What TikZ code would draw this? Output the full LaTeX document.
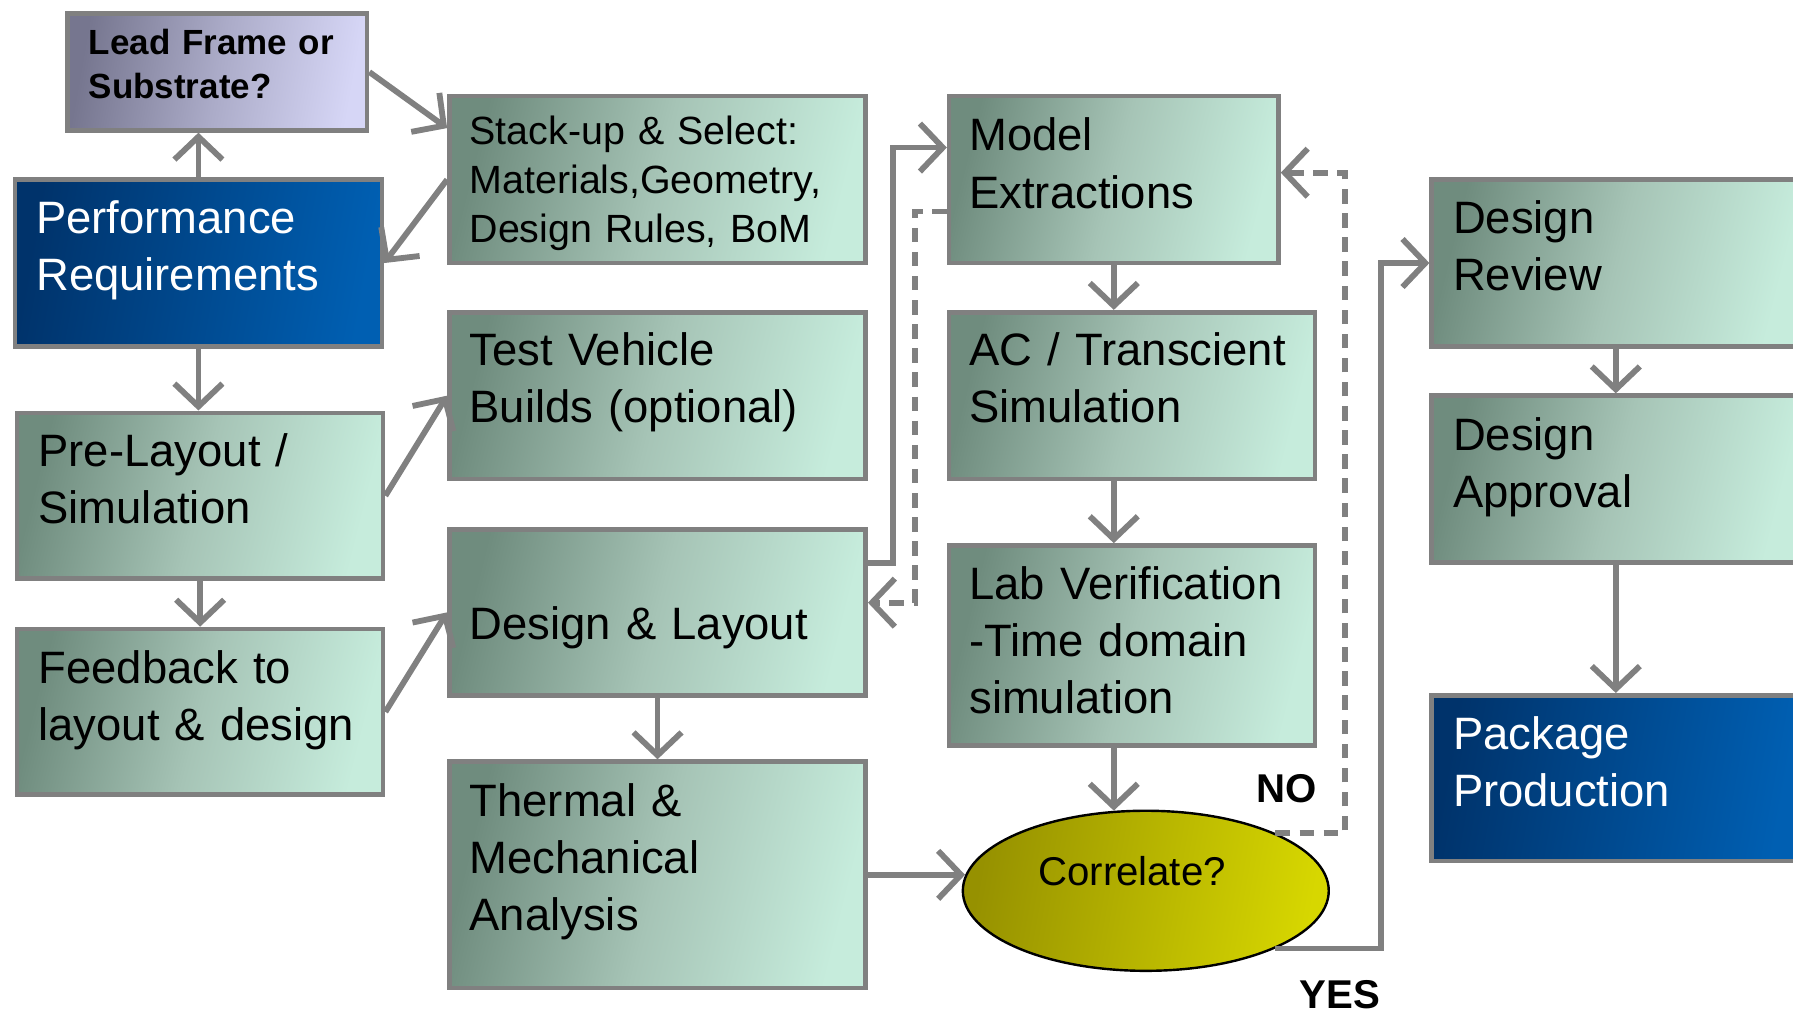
\documentclass[tikz,border=0pt]{standalone}
\usepackage{fontspec}
\setmainfont{Liberation Sans}
\usetikzlibrary{arrows.meta,shapes.geometric}
\definecolor{boxdark}{HTML}{6F8C7E}
\definecolor{boxmid}{HTML}{A6C4B6}
\definecolor{boxlight}{HTML}{C6ECDC}
\definecolor{bluedark}{HTML}{00336B}
\definecolor{bluelight}{HTML}{005FB2}
\definecolor{lavdark}{HTML}{76768F}
\definecolor{lavlight}{HTML}{D6D6F6}
\definecolor{olivedark}{HTML}{969100}
\definecolor{olivelight}{HTML}{D7D700}
\definecolor{linegray}{HTML}{808080}
\newcommand{\flowbig}{\fontsize{11.3}{14.2}\selectfont}
\newcommand{\flowsmall}{\fontsize{9.8}{12.2}\selectfont}
\newcommand{\flowlead}{\fontsize{8.7}{10.8}\selectfont\bfseries}

\begin{document}
\begin{tikzpicture}[
  font=\flowbig,
  stepbox/.style={draw=linegray, line width=1.15pt, anchor=north west, inner sep=0pt,
    left color=boxdark, right color=boxlight, middle color=boxmid, shading angle=76},
  bluebox/.style={stepbox, left color=bluedark, right color=bluelight, middle color=bluedark!50!bluelight, shading angle=80},
  leadbox/.style={stepbox, left color=lavdark, right color=lavlight, middle color=lavdark!45!lavlight, shading angle=80},
  decide/.style={ellipse, draw=black, line width=0.6pt, inner sep=0pt,
    left color=olivedark, right color=olivelight, shading angle=80},
  txt/.style={anchor=base west, inner sep=0pt, align=left, text width=3.5cm},
  flow/.style={-{Straight Barb[length=2mm, width=4.2mm]}, draw=linegray, line width=1.45pt},
  back/.style={flow, dash pattern=on 3.6pt off 2.4pt},
  yesno/.style={font=\fontsize{10}{12}\selectfont\bfseries, inner sep=0pt, anchor=west}
]
\clip (0,0) rectangle (15.68,-8.86);

% left column
\node[leadbox, minimum width=2.62cm, minimum height=1.02cm] (lead) at (0.57,-0.10) {};
\node[txt, font=\flowlead] (lead-t) at ([shift={(0.20,-0.38)}]lead.north west) {Lead Frame or\\Substrate?};
\node[bluebox, minimum width=3.21cm, minimum height=1.46cm] (perf) at (0.11,-1.55) {};
\node[txt, text=white] (perf-t) at ([shift={(0.20,-0.49)}]perf.north west) {Performance\\Requirements};
\node[stepbox, minimum width=3.20cm, minimum height=1.45cm] (pre) at (0.13,-3.59) {};
\node[txt] (pre-t) at ([shift={(0.20,-0.49)}]pre.north west) {Pre-Layout /\\Simulation};
\node[stepbox, minimum width=3.20cm, minimum height=1.45cm] (feed) at (0.13,-5.48) {};
\node[txt] (feed-t) at ([shift={(0.20,-0.50)}]feed.north west) {Feedback to\\layout \& design};

% second column
\node[stepbox, minimum width=3.64cm, minimum height=1.46cm] (stack) at (3.91,-0.82) {};
\node[txt, font=\flowsmall] (stack-t) at ([shift={(0.19,-0.44)}]stack.north west) {Stack-up \& Select:\\Materials,Geometry,\\Design Rules, BoM};
\node[stepbox, minimum width=3.64cm, minimum height=1.46cm] (test) at (3.91,-2.71) {};
\node[txt] (test-t) at ([shift={(0.19,-0.49)}]test.north west) {Test Vehicle\\Builds (optional)};
\node[stepbox, minimum width=3.64cm, minimum height=1.45cm] (layout) at (3.91,-4.61) {};
\node[txt] (layout-t) at ([shift={(0.19,-0.98)}]layout.north west) {Design \& Layout};
\node[stepbox, minimum width=3.64cm, minimum height=1.98cm] (thermal) at (3.91,-6.64) {};
\node[txt] (thermal-t) at ([shift={(0.19,-0.50)}]thermal.north west) {Thermal \&\\Mechanical\\Analysis};

% third column
\node[stepbox, minimum width=2.88cm, minimum height=1.46cm] (model) at (8.28,-0.82) {};
\node[txt] (model-t) at ([shift={(0.19,-0.50)}]model.north west) {Model\\Extractions};
\node[stepbox, minimum width=3.20cm, minimum height=1.46cm] (ac) at (8.28,-2.71) {};
\node[txt] (ac-t) at ([shift={(0.19,-0.49)}]ac.north west) {AC / Transcient\\Simulation};
\node[stepbox, minimum width=3.20cm, minimum height=1.75cm] (lab) at (8.28,-4.75) {};
\node[txt] (lab-t) at ([shift={(0.19,-0.49)}]lab.north west) {Lab Verification\\-Time domain\\simulation};
\node[decide, minimum width=3.20cm, minimum height=1.40cm] (corr) at (10.02,-7.79) {};
\node[inner sep=0pt, font=\fontsize{10}{12}\selectfont] (corr-t) at (9.90,-7.62) {Correlate?};

% right column
\node[stepbox, minimum width=3.22cm, minimum height=1.46cm] (review) at (12.50,-1.55) {};
\node[txt] (review-t) at ([shift={(0.20,-0.49)}]review.north west) {Design\\Review};
\node[stepbox, minimum width=3.22cm, minimum height=1.46cm] (approval) at (12.50,-3.44) {};
\node[txt] (approval-t) at ([shift={(0.20,-0.50)}]approval.north west) {Design\\Approval};
\node[bluebox, minimum width=3.22cm, minimum height=1.45cm] (package) at (12.50,-6.06) {};
\node[txt, text=white] (package-t) at ([shift={(0.20,-0.49)}]package.north west) {Package\\Production};

\node[yesno] (no) at (10.98,-6.90) {NO};
\node[yesno] (yes) at (11.36,-8.70) {YES};

% connectors
\draw[flow] (perf.north) -- (perf.north |- lead.south);
\draw[flow] (lead.east) -- ([yshift=0.45cm]stack.west);
\draw[flow] (stack.west) -- (perf.east);
\draw[flow] (perf.south) -- (perf.south |- pre.north);
\draw[flow] (pre.east) -- (test.west);
\draw[flow] (pre.south) -- (feed.north);
\draw[flow] (feed.east) -- (layout.west);
\draw[flow] (layout.south) -- (thermal.north);
\draw[flow] ([yshift=0.435cm]layout.east) -- ++(0.22,0) |- ([yshift=0.28cm]model.west);
\draw[back] ([yshift=-0.28cm]model.west) -- ++(-0.28,0) |- ([yshift=0.085cm]layout.east);
\draw[flow] (model.south) -- (model.south |- ac.north);
\draw[flow] ([xshift=-0.16cm]ac.south) -- ([xshift=-0.16cm]lab.north);
\draw[flow] ([xshift=-0.16cm]lab.south) -- ([xshift=-0.16cm,yshift=-0.01cm]lab.south |- corr.north);
\draw[flow] (thermal.east) -- ([xshift=0.03cm]thermal.east -| corr.west);
\draw[back] (corr.24) -- ++(0.61,0) |- ([yshift=0.06cm]model.east);
\draw[flow] (corr.-24) -- ++(0.92,0) |- (review.west);
\draw[flow] (review.south) -- (approval.north);
\draw[flow] (approval.south) -- (package.north);
\end{tikzpicture}
\end{document}
